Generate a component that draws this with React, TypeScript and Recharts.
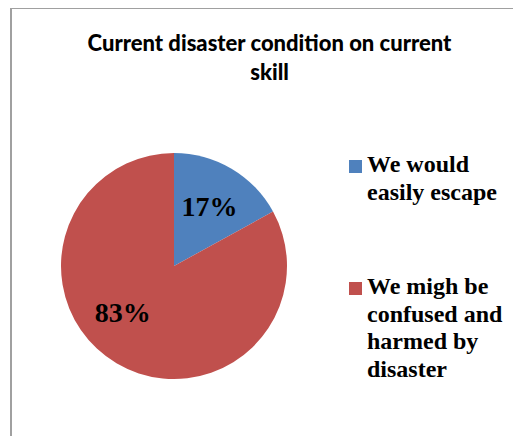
import { PieChart, Pie, Cell, Legend, Customized } from 'recharts';

const categories = ['We would easily escape', 'We migh be confused and harmed by disaster'];
const shares = [17, 83];
const colors = ['#4F81BD', '#C0504D'];
const titleLines = ['Current disaster condition on current', 'skill'];

const data = categories.map((name, i) => ({ name, value: shares[i] }));

const RAD = Math.PI / 180;
// Excel "best fit" nudges the big label off its mid angle
const labelAngleShift = [0, -17];

const renderLabel = (props: any) => {
  const { cx, cy, midAngle, outerRadius, index, value } = props;
  const a = midAngle + labelAngleShift[index];
  const r = outerRadius * 0.615;
  const x = cx + r * Math.cos(-a * RAD);
  const y = cy + r * Math.sin(-a * RAD);
  return (
    <text
      x={x}
      y={y + 9.5}
      textAnchor="middle"
      fill="#000"
      style={{ fontFamily: '"Liberation Serif", "Times New Roman", serif', fontWeight: 700, fontSize: 28 }}
    >
      {value}%
    </text>
  );
};

const Title = () => (
  <g>
    {titleLines.map((line, i) => (
      <text
        key={i}
        x={257.5}
        y={42 + i * 29}
        textAnchor="middle"
        fill="#000"
        style={{ fontFamily: 'Lato, "Open Sans", sans-serif', fontWeight: 900, fontSize: 22 }}
      >
        {line}
      </text>
    ))}
  </g>
);

const LegendBox = () => (
  <div style={{ fontFamily: '"Liberation Serif", "Times New Roman", serif', fontWeight: 700, fontSize: 24, lineHeight: '27.6px', color: '#000' }}>
    {data.map((d, i) => (
      <div key={d.name} style={{ position: 'relative', paddingLeft: 18, width: 150, marginTop: i === 0 ? 0 : 66.8 }}>
        <span style={{ position: 'absolute', left: 0, top: 9, width: 13, height: 13, background: colors[i] }} />
        {d.name}
      </div>
    ))}
  </div>
);

export default function App() {
  return (
    <div
      style={{
        marginLeft: 2,
        width: 511,
        height: 428,
        boxSizing: 'border-box',
        borderLeft: '2px solid #a0a0a0',
        borderTop: '1px solid #a0a0a0',
        background: '#fff',
      }}
    >
      <PieChart width={509} height={427} margin={{ top: 0, right: 0, bottom: 0, left: 0 }}>
        <Customized component={Title} />
        <Pie
          data={data}
          dataKey="value"
          nameKey="name"
          cx={162}
          cy={257}
          outerRadius={113}
          startAngle={90}
          endAngle={-270}
          stroke="none"
          label={renderLabel}
          labelLine={false}
          isAnimationActive={false}
        >
          {data.map((d, i) => (
            <Cell key={d.name} fill={colors[i]} />
          ))}
        </Pie>
        <Legend
          content={LegendBox}
          wrapperStyle={{ position: 'absolute', left: 337, top: 142, width: 170 }}
        />
      </PieChart>
    </div>
  );
}
